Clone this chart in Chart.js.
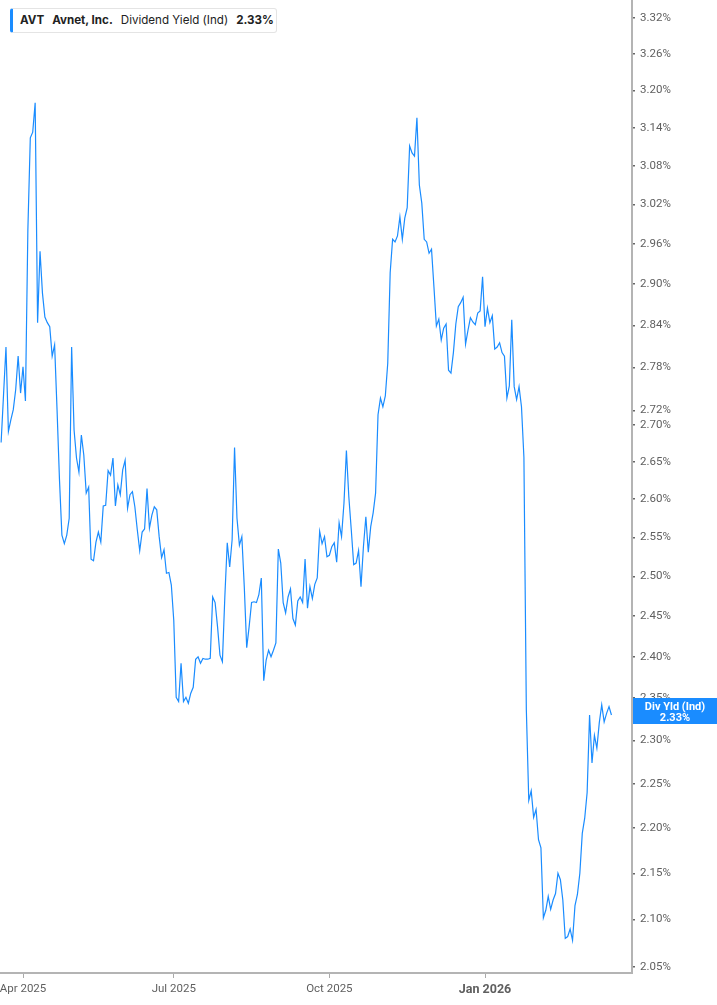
<!DOCTYPE html>
<html>
<head>
<meta charset="utf-8">
<script src="https://cdn.jsdelivr.net/npm/chart.js@4/dist/chart.umd.min.js"></script>
<style>
  html, body { margin: 0; padding: 0; background: #fff; }
  #wrap { position: relative; width: 717px; height: 1005px; }
  #legend {
    position: absolute; left: 10px; top: 8px; height: 23px; width: 256px;
    background: #fff; border: 1px solid #e4e4e4; border-left: 3px solid #1a8cff;
    border-radius: 3px; font-family: Inter, Roboto, sans-serif; font-size: 11.6px;
    color: #222; line-height: 23px; padding-left: 7px; box-sizing: content-box; white-space: nowrap;
  }
  #legend b { font-weight: 700; }
  #legend .sp { display: inline-block; width: 8px; }
</style>
</head>
<body>
<div id="wrap">
  <canvas id="c" width="717" height="1005"></canvas>
  <div id="legend"><b>AVT</b><span class="sp"></span><b>Avnet, Inc.</b><span class="sp"></span>Dividend Yield (Ind)<span class="sp"></span><b>2.33%</b></div>
</div>
<script>
// ---- data ----
const seriesName = "Div Yld (Ind)";
const divYield = [
  2.676, 2.742, 2.809, 2.691, 2.707, 2.721, 2.749, 2.796, 2.744, 2.781,
  2.733, 2.981, 3.124, 3.133, 3.180, 2.844, 2.949, 2.887, 2.852, 2.844,
  2.838, 2.796, 2.812, 2.721, 2.626, 2.553, 2.542, 2.553, 2.575, 2.809,
  2.693, 2.655, 2.636, 2.686, 2.659, 2.608, 2.616, 2.522, 2.520, 2.544,
  2.557, 2.544, 2.591, 2.592, 2.638, 2.632, 2.655, 2.591, 2.619, 2.606,
  2.639, 2.652, 2.588, 2.606, 2.610, 2.590, 2.560, 2.533, 2.557, 2.561,
  2.614, 2.562, 2.579, 2.590, 2.586, 2.551, 2.524, 2.534, 2.504, 2.505,
  2.489, 2.445, 2.351, 2.346, 2.392, 2.346, 2.351, 2.344, 2.356, 2.363,
  2.397, 2.400, 2.392, 2.398, 2.397, 2.397, 2.398, 2.474, 2.467, 2.437,
  2.402, 2.394, 2.474, 2.543, 2.512, 2.547, 2.669, 2.575, 2.540, 2.551,
  2.487, 2.411, 2.437, 2.467, 2.468, 2.467, 2.477, 2.498, 2.371, 2.396,
  2.408, 2.400, 2.408, 2.417, 2.535, 2.517, 2.467, 2.454, 2.474, 2.484,
  2.447, 2.439, 2.469, 2.474, 2.467, 2.522, 2.460, 2.487, 2.472, 2.490,
  2.498, 2.558, 2.542, 2.551, 2.525, 2.527, 2.538, 2.543, 2.518, 2.569,
  2.551, 2.595, 2.665, 2.603, 2.560, 2.515, 2.517, 2.533, 2.487, 2.538,
  2.577, 2.531, 2.564, 2.582, 2.608, 2.714, 2.737, 2.725, 2.740, 2.786,
  2.917, 2.967, 2.963, 2.972, 3.001, 2.967, 2.999, 3.015, 3.111, 3.100,
  3.095, 3.156, 3.050, 3.022, 2.967, 2.963, 2.946, 2.952, 2.896, 2.839,
  2.849, 2.819, 2.836, 2.842, 2.776, 2.772, 2.801, 2.842, 2.867, 2.873,
  2.881, 2.813, 2.833, 2.851, 2.845, 2.841, 2.858, 2.861, 2.911, 2.838,
  2.865, 2.844, 2.854, 2.806, 2.809, 2.815, 2.801, 2.796, 2.737, 2.754,
  2.848, 2.753, 2.735, 2.753, 2.725, 2.656, 2.336, 2.231, 2.242, 2.212,
  2.221, 2.187, 2.178, 2.102, 2.110, 2.125, 2.111, 2.121, 2.128, 2.150,
  2.143, 2.121, 2.080, 2.082, 2.090, 2.078, 2.115, 2.127, 2.150, 2.194,
  2.211, 2.240, 2.330, 2.274, 2.306, 2.291, 2.321, 2.342, 2.322, 2.332,
  2.340, 2.330
];
// trading-day index of each x-axis tick and its label
const xTickIndex = [9, 71, 135, 199];
const xTickLabels = ["Apr 2025", "Jul 2025", "Oct 2025", "Jan 2026"];
const xBoldLabel = "Jan 2026";
const yTicks = [3.32, 3.26, 3.20, 3.14, 3.08, 3.02, 2.96, 2.90, 2.84, 2.78, 2.72, 2.70,
                2.65, 2.60, 2.55, 2.50, 2.45, 2.40, 2.35, 2.30, 2.25, 2.20, 2.15, 2.10, 2.05];
const yMin = 2.0438, yMax = 3.3505;
const xMin = -0.46, xMax = 259.45;

const points = divYield.map((v, i) => ({ x: i, y: v }));
const LINE = '#1a8cff';
const AXIS = '#b4b4b4';

const lastLabel = {
  id: 'lastLabel',
  afterDraw(chart) {
    const ctx = chart.ctx, ys = chart.scales.y, ca = chart.chartArea;
    const v = divYield[divYield.length - 1];
    const yc = Math.round(ys.getPixelForValue(v)) - 4;
    const x0 = ca.right + 1, w = chart.width - x0;
    ctx.save();
    ctx.fillStyle = LINE;
    ctx.fillRect(x0, yc - 13, w, 26);
    ctx.fillStyle = '#fff';
    ctx.font = 'bold 11px Roboto, sans-serif';
    ctx.textAlign = 'center';
    ctx.textBaseline = 'alphabetic';
    ctx.fillText(seriesName, x0 + w / 2, yc - 1);
    ctx.fillText(v.toFixed(2) + '%', x0 + w / 2, yc + 10);
    ctx.restore();
  }
};

new Chart(document.getElementById('c'), {
  type: 'line',
  data: {
    datasets: [{
      data: points,
      borderColor: LINE,
      borderWidth: 1.2,
      pointRadius: 0,
      tension: 0,
      fill: false
    }]
  },
  options: {
    responsive: false,
    animation: false,
    layout: { padding: 0 },
    plugins: { legend: { display: false }, tooltip: { enabled: false } },
    scales: {
      x: {
        type: 'linear',
        min: xMin, max: xMax,
        afterBuildTicks(scale) { scale.ticks = xTickIndex.map(v => ({ value: v })); },
        afterFit(scale) { scale.height = 32; scale.paddingLeft = 0; scale.paddingRight = 0; },
        ticks: {
          autoSkip: false, maxRotation: 0, padding: 4,
          color: '#5f5f5f',
          font: (c) => {
            const i = xTickIndex.indexOf(c.tick && c.tick.value);
            return (xTickLabels[i] === xBoldLabel)
              ? { family: 'Roboto, sans-serif', size: 12.5, weight: 'bold' }
              : { family: 'Roboto, sans-serif', size: 11.5 };
          },
          callback: (v) => xTickLabels[xTickIndex.indexOf(v)] || ''
        },
        grid: { drawOnChartArea: false, drawTicks: true, tickLength: 5, color: '#aaa', lineWidth: 1 },
        border: { display: true, color: AXIS, width: 2 }
      },
      y: {
        type: 'logarithmic',
        position: 'right',
        min: yMin, max: yMax,
        afterBuildTicks(scale) { scale.ticks = yTicks.map(v => ({ value: v })); },
        afterFit(scale) { scale.width = 85; scale.paddingTop = 0; scale.paddingBottom = 0; },
        ticks: {
          autoSkip: false, padding: 5,
          color: '#5f5f5f',
          font: { family: 'Roboto, sans-serif', size: 11.5 },
          callback: (v) => Number(v).toFixed(2) + '%'
        },
        grid: { drawOnChartArea: false, drawTicks: true, tickLength: 3, color: '#666', lineWidth: 1.5 },
        border: { display: true, color: AXIS, width: 2 }
      }
    }
  },
  plugins: [lastLabel]
});
</script>
</body>
</html>
